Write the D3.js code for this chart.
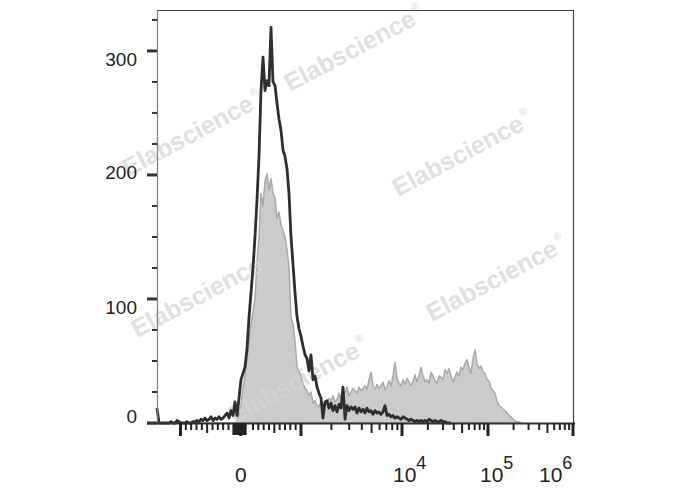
<!DOCTYPE html>
<html><head><meta charset="utf-8">
<script src="https://cdn.jsdelivr.net/npm/d3@7"></script>
<style>body{margin:0;background:#fff;overflow:hidden}</style>
</head><body><svg id="c" width="688" height="490"></svg>
<script>
// ---------------- DATA ----------------
// histogram counts per display channel (channel 0 = left edge of plot)
const stainedCounts = [
 12,0,0,0,0,0,0,1,0,0,
 2,1,0,0,0,1,0,0,1,1,
 2,1,3,2,4,2,3,5,2,4,
 3,5,3,4,6,8,4,10,6,17,
 6,20,35,40,45,60,85,105,125,150,
 180,215,268,295,268,276,272,319,275,272,
 258,245,236,220,215,205,185,150,128,105,
 86,76,70,62,55,52,42,55,35,38,
 29,24,20,4,17,18,12,16,10,14,
 9,15,12,29,3,14,10,13,11,13,
 8,12,9,11,8,12,9,10,7,10,
 8,9,7,9,14,6,7,5,6,4,
 5,4,3,5,4,3,2,3,2,1,
 2,1,2,1,2,1,3,2,1,2,
 1,1,2,1,1,0,0,0
];
const isotypeCounts = [
 0,0,0,0,0,0,0,0,0,0,
 0,0,0,0,0,0,0,0,0,0,
 0,0,0,0,0,0,0,0,0,0,
 0,0,0,0,0,0,0,0,0,0,
 1,8,15,28,38,52,66,80,90,100,
 130,150,185,175,195,201,188,197,185,182,
 165,170,160,155,150,140,125,85,80,66,
 45,42,38,32,28,26,22,25,16,18,
 14,13,18,15,14,16,20,18,22,17,
 19,24,20,26,24,29,22,25,28,26,
 24,29,26,28,30,27,35,41,30,27,
 31,28,30,33,27,29,34,30,38,49,
 36,32,30,35,31,36,33,30,34,39,
 33,38,45,38,33,35,32,41,38,34,
 32,38,37,35,43,40,44,38,33,37,
 41,38,45,43,48,51,45,40,52,59,
 48,44,46,41,40,35,34,28,26,24,
 18,14,13,11,10,8,6,5,3,2,
 1,1,0
];
const xMajorTicks = [-1000, 0, 1000, 1e4, 1e5, 1e6];
const xZeroCluster = [-60,-50,-40,-30,-20,-10,10,20,30,40];
const xMinorTicks = [-900,-800,-700,-600,-400,-300,-200,-100,100,200,300,400,600,700,800,900,
  2e3,3e3,4e3,6e3,7e3,8e3,9e3,2e4,3e4,4e4,6e4,7e4,8e4,9e4,2e5,3e5,4e5,6e5,7e5,8e5,9e5];
const xMidTicks = [-500, 500, 5e3, 5e4, 5e5];
const xTickLabels = [{v:0, base:"0", sup:""},{v:1e4, base:"10", sup:"4"},{v:1e5, base:"10", sup:"5"},{v:1e6, base:"10", sup:"6"}];
const yMajorTicks = [0,100,200,300];
const yMinorTicks = [25,50,75,125,150,175,225,250,275,325];
const watermarkText = "Elabscience";

// ---------------- LAYOUT / STYLE ----------------
const L = 157, R = 573, T0 = 10, B = 423;
const NCH = 208;
const svg = d3.select("#c");
const font = "'Liberation Sans', Arial, sans-serif";

// biexponential-like display transform
const Tf = v => Math.abs(v) <= 1000 ? v : Math.sign(v) * (1000 + (Math.log10(Math.abs(v)) - 3) * 1000);
const biex = d3.scaleLinear().domain([-1000,-100,100,1000,2000,3000,4000]).range([11.75,35.75,48,72,122.5,165.5,208]);
const chan = d3.scaleLinear().domain([0, NCH]).range([L, R]);
const xv = v => chan(biex(Tf(v)));
const y = d3.scaleLinear().domain([0, 333]).range([B, T0]);

// ---------------- HISTOGRAMS ----------------
const iso = isotypeCounts.map((v,i)=>({c:i,v}));
const st = stainedCounts.map((v,i)=>({c:i,v}));

svg.append("path").datum(iso)
  .attr("d", d3.area().x(d=>chan(d.c)).y0(y(0)).y1(d=>y(d.v)))
  .attr("fill", "#cbcbcb").attr("stroke", "#a9a9a9").attr("stroke-width", 1.5).attr("stroke-linejoin","round");

// watermarks
const wm = [[290,92],[128,177],[398,197],[137,338],[432,322],[234,424]];
const wg = svg.append("g");
wm.forEach(([wx,wy])=>{
  const t = wg.append("text").attr("transform",`translate(${wx},${wy}) rotate(-28)`)
    .attr("font-family", font).attr("font-weight","bold").attr("font-size",25)
    .attr("fill","#d4d4d4").attr("opacity",0.7);
  t.append("tspan").text(watermarkText);
  t.append("tspan").attr("font-size",11).attr("dy",-13).attr("dx",2).text("®");
});

svg.append("path").datum(st)
  .attr("d", d3.line().x(d=>chan(d.c)).y(d=>y(d.v)))
  .attr("fill", "none").attr("stroke", "#2e2e2e").attr("stroke-width", 2.8).attr("stroke-linejoin","round");

// ---------------- FRAME ----------------
svg.append("line").attr("x1",L+0.5).attr("x2",L+0.5).attr("y1",T0).attr("y2",B).attr("stroke","#808080").attr("stroke-width",1.2);
svg.append("line").attr("x1",L).attr("x2",R).attr("y1",T0+0.5).attr("y2",T0+0.5).attr("stroke","#444").attr("stroke-width",1.2);
svg.append("line").attr("x1",R+0.5).attr("x2",R+0.5).attr("y1",T0).attr("y2",B).attr("stroke","#444").attr("stroke-width",1.2);
svg.append("line").attr("x1",147).attr("x2",R+2).attr("y1",B+0.5).attr("y2",B+0.5).attr("stroke","#333").attr("stroke-width",2);

// ---------------- Y AXIS ----------------
svg.append("g").selectAll("line").data(yMajorTicks).join("line")
  .attr("x1",147).attr("x2",L).attr("y1",d=>y(d)).attr("y2",d=>y(d))
  .attr("stroke","#333").attr("stroke-width",3);
svg.append("g").selectAll("line").data(yMinorTicks).join("line")
  .attr("x1",152).attr("x2",L).attr("y1",d=>y(d)).attr("y2",d=>y(d))
  .attr("stroke","#333").attr("stroke-width",2);
const yLabelDy = {0:-7, 100:8, 200:-3, 300:8};
svg.append("g").selectAll("text").data(yMajorTicks).join("text")
  .attr("x",137).attr("y",d=>y(d)+yLabelDy[d]).attr("dy","0.36em")
  .attr("text-anchor","end").attr("font-family",font).attr("font-size",19).attr("fill","#222")
  .text(d=>d);

// ---------------- X AXIS ----------------
const xt = svg.append("g");
xt.selectAll(".mj").data(xMajorTicks).join("line").attr("class","mj")
  .attr("x1",d=>xv(d)).attr("x2",d=>xv(d)).attr("y1",B).attr("y2",B+13)
  .attr("stroke","#222").attr("stroke-width",3);
xt.selectAll(".zc").data(xZeroCluster).join("line").attr("class","zc")
  .attr("x1",d=>xv(d)).attr("x2",d=>xv(d)).attr("y1",B).attr("y2",B+12)
  .attr("stroke","#222").attr("stroke-width",2);
xt.selectAll(".mn").data(xMinorTicks).join("line").attr("class","mn")
  .attr("x1",d=>xv(d)).attr("x2",d=>xv(d)).attr("y1",B).attr("y2",B+7)
  .attr("stroke","#222").attr("stroke-width",2);
xt.selectAll(".md").data(xMidTicks).join("line").attr("class","md")
  .attr("x1",d=>xv(d)).attr("x2",d=>xv(d)).attr("y1",B).attr("y2",B+10)
  .attr("stroke","#222").attr("stroke-width",2);

const xLabelDx = {0:0, 10000:-9, 100000:-8, 1000000:-34};
xTickLabels.forEach(lb=>{
  const t = svg.append("text").attr("y",482).attr("font-family",font).attr("font-size",21).attr("fill","#222")
    .attr("x", xv(lb.v) + xLabelDx[lb.v]).attr("text-anchor", lb.sup ? "start" : "middle");
  t.append("tspan").text(lb.base);
  if (lb.sup) t.append("tspan").attr("dy",-13).attr("font-size",18).text(lb.sup);
});
</script>
</body></html>
